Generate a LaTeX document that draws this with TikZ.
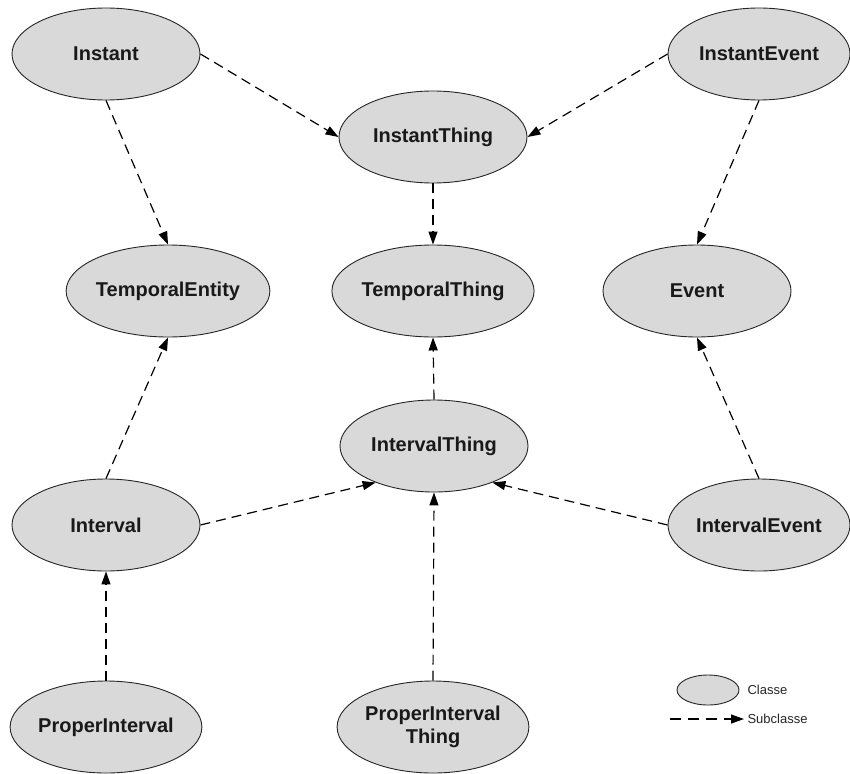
\documentclass[tikz,border=0pt]{standalone}
\usepackage{fontspec}
\setmainfont{Liberation Sans}
\usetikzlibrary{shapes.geometric,arrows.meta}
\definecolor{classgray}{RGB}{217,217,217}
\begin{document}
\begin{tikzpicture}[x=1pt,y=-1pt,
  cls/.style={ellipse,draw=black!85,line width=0.9pt,fill=classgray,
    minimum width=188pt,minimum height=92pt,inner sep=0pt,align=center,
    font=\fontsize{20}{23}\selectfont\bfseries,text=black!90},
  subarrow/.style={line width=1.2pt,dash pattern=on 10pt off 6pt,
    -{Triangle[length=13pt,width=9pt]}},
  legtext/.style={anchor=west,font=\fontsize{13}{15}\selectfont,text=black!85}]
  \useasboundingbox[fill=white] (0,0) rectangle (850,773);

  % classes
  \node[cls] (Instant) at (106,54) {Instant};
  \node[cls] (InstantThing) at (433,137) {InstantThing};
  \node[cls,minimum width=182pt] (InstantEvent) at (759,54) {InstantEvent};
  \node[cls,minimum width=182pt] (TemporalEntity) at (168,291) {TemporalEntity};
  \node[cls,minimum width=186pt] (TemporalThing) at (433,291) {TemporalThing};
  \node[cls] (Event) at (697,291) {Event};
  \node[cls] (IntervalThing) at (434,446) {IntervalThing};
  \node[cls] (Interval) at (106,525) {Interval};
  \node[cls,minimum width=182pt] (IntervalEvent) at (759,525) {IntervalEvent};
  \node[cls] (ProperInterval) at (106,727) {ProperInterval};
  \node[cls,minimum width=186pt] (ProperIntervalThing) at (433,727) {ProperInterval\\Thing};

  % subclass relations
  \draw[subarrow] (Instant.east) -- (InstantThing.west);
  \draw[subarrow] (InstantEvent.west) -- (InstantThing.east);
  \draw[subarrow] (Instant.south) -- (TemporalEntity.north);
  \draw[subarrow] (InstantThing.south) -- (TemporalThing.north);
  \draw[subarrow] (InstantEvent.south) -- (Event.north);
  \draw[subarrow] (Interval.north) -- (TemporalEntity.south);
  \draw[subarrow] (IntervalThing.north) -- (TemporalThing.south);
  \draw[subarrow] (IntervalEvent.north) -- (Event.south);
  \draw[subarrow] (Interval.east) -- (IntervalThing.212);
  \draw[subarrow] (IntervalEvent.west) -- (IntervalThing.328);
  \draw[subarrow] (ProperInterval.north) -- (Interval.south);
  \draw[subarrow] (ProperIntervalThing.north) -- (IntervalThing.south);

  % legend
  \node[ellipse,draw=black!85,line width=0.9pt,fill=classgray,
    minimum width=62pt,minimum height=30pt,inner sep=0pt] (legclass) at (708,690) {};
  \node[legtext] (legclasstext) at (744,690) {Classe};
  \node[legtext] (legsubtext) at (744,719) {Subclasse};
  \coordinate (legstart) at (670,719);
  \draw[line width=1.2pt,dash pattern=on 11pt off 7pt,
    -{Triangle[length=13pt,width=9pt]}] (legstart) -- (legsubtext.west);
\end{tikzpicture}
\end{document}
